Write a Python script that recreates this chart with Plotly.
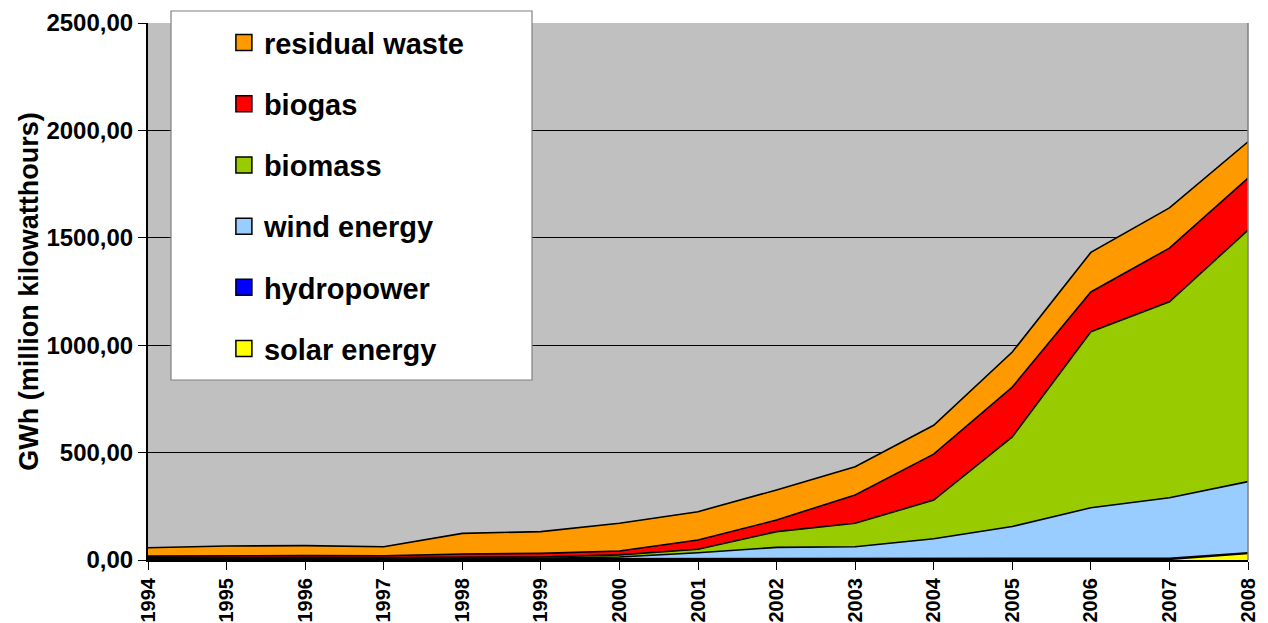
import plotly.graph_objects as go

years = list(range(1994, 2009))
solar_energy = [0, 0, 0, 0, 0, 0, 0, 0, 0, 0, 0, 0, 1, 3, 30]
hydropower = [6, 7, 7, 6, 6, 6, 6, 5, 5, 5, 5, 5, 5, 5, 4]
wind_energy = [0, 0, 0, 0, 1, 2, 8, 29, 54, 57, 94, 151, 237, 282, 331]
biomass = [4, 5, 5, 5, 6, 6, 10, 16, 73, 109, 180, 417, 820, 912, 1171]
biogas = [8, 9, 9, 9, 15, 17, 18, 43, 54, 132, 214, 232, 185, 250, 242]
residual_waste = [39, 44, 46, 42, 96, 101, 129, 132, 140, 131, 134, 163, 184, 187, 169]

series = [
    ("solar energy", solar_energy, "#FFFF00"),
    ("hydropower", hydropower, "#0000FF"),
    ("wind energy", wind_energy, "#99CCFF"),
    ("biomass", biomass, "#99CC00"),
    ("biogas", biogas, "#FF0000"),
    ("residual waste", residual_waste, "#FF9900"),
]

FONT = "Liberation Sans, Arial, sans-serif"

fig = go.Figure()
for name, vals, col in series:
    fig.add_trace(go.Scatter(
        x=years, y=vals, name=name, stackgroup="one", mode="lines",
        line=dict(color="black", width=1.6), fillcolor=col, showlegend=False,
        hoverinfo="x+y+name",
    ))
# legend entries, top to bottom: residual waste ... solar energy
for name, vals, col in reversed(series):
    fig.add_trace(go.Scatter(
        x=[None], y=[None], name=name, mode="markers", legendgroup=name,
        marker=dict(symbol="square", size=16, color=col, line=dict(color="black", width=1.5)),
        showlegend=True,
    ))

# page body adds an 8px offset, so the figure is 8px smaller than the window
fig.update_layout(
    width=1260, height=615,
    margin=dict(l=140, r=20, t=15, b=63, autoexpand=False),
    paper_bgcolor="white",
    plot_bgcolor="#C0C0C0",
    separators=",.",
    font=dict(family=FONT, color="black"),
    showlegend=True,
    legend=dict(
        x=0.069, y=0.346, xanchor="left", yanchor="bottom",
        bgcolor="rgba(0,0,0,0)", borderwidth=0,
        traceorder="grouped", tracegroupgap=20.5,
        font=dict(family=FONT, size=29, color="black", weight="bold"),
        itemclick=False, itemdoubleclick=False,
    ),
    xaxis=dict(
        range=[1994, 2008], tickmode="array", tickvals=years,
        ticktext=[str(y) for y in years], tickangle=-90,
        ticks="outside", ticklen=8, tickcolor="black", tickwidth=1,
        showline=True, linecolor="black", linewidth=2,
        showgrid=False, zeroline=False, automargin=False,
        tickfont=dict(family=FONT, size=20, color="black", weight="bold"),
    ),
    yaxis=dict(
        range=[0, 2500], tick0=0, dtick=500, tickformat=".2f",
        ticks="outside", ticklen=8, tickcolor="black", tickwidth=1,
        showline=True, linecolor="black", linewidth=2,
        showgrid=True, gridcolor="black", gridwidth=1, zeroline=False,
        automargin=False,
        tickfont=dict(family=FONT, size=24, color="black", weight="bold"),
        title=dict(text="<b>GWh (million kilowatthours)</b>", standoff=0,
                   font=dict(family=FONT, size=27, color="black")),
    ),
    shapes=[
        dict(type="line", xref="paper", yref="paper", x0=1, x1=1, y0=0, y1=1,
             line=dict(color="#808080", width=1.5)),
        dict(type="rect", xref="paper", yref="paper",
             x0=(171 - 148) / 1100, x1=(532 - 148) / 1100,
             y0=(560 - 380) / 537, y1=(560 - 11) / 537,
             fillcolor="white", line=dict(color="#808080", width=1.2), layer="above"),
    ],
)

fig.write_html("out.html")
